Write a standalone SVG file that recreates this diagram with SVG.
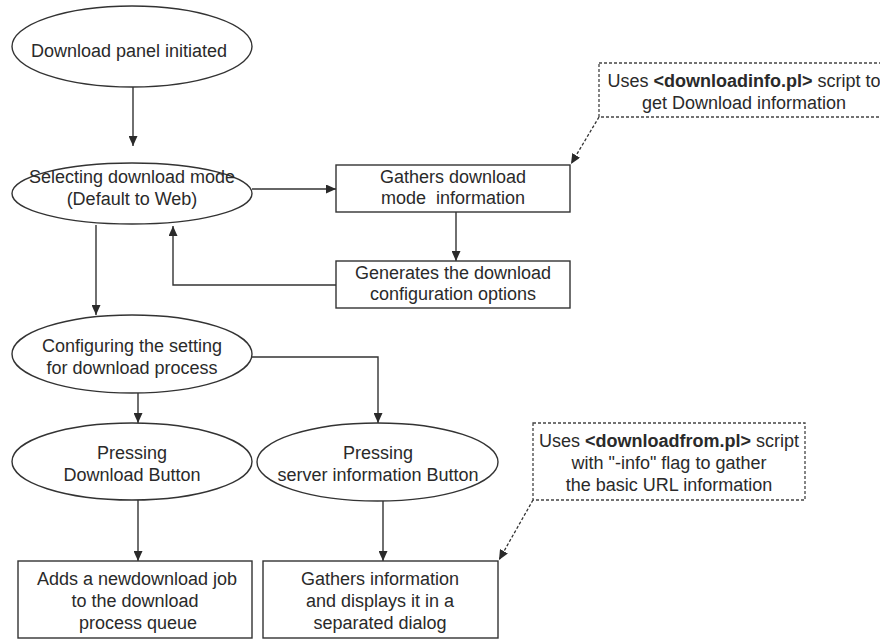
<svg xmlns="http://www.w3.org/2000/svg" width="880" height="639" viewBox="0 0 880 639">
<defs>
<style>
.sh{fill:#fff;stroke:#333;stroke-width:1.4}
.note{fill:#fff;stroke:#444;stroke-width:1.3;stroke-dasharray:3 2}
.t{font-family:"Liberation Sans",Arial,sans-serif;font-size:18px;fill:#2a2a2a;text-anchor:middle}
.b{font-weight:bold}
.c{fill:none;stroke:#333;stroke-width:1.4}
.d{fill:none;stroke:#333;stroke-width:1.3;stroke-dasharray:3 2}
</style>
<marker id="ah" markerUnits="userSpaceOnUse" markerWidth="10" markerHeight="9" refX="10" refY="4.5" orient="auto">
<path d="M0,0 L10,4.5 L0,9 z" fill="#2a2a2a"/>
</marker>
</defs>
<rect width="880" height="639" fill="#fff"/>
<g id="connectors">
<line class="c" x1="133" y1="87" x2="133" y2="146" marker-end="url(#ah)"/>
<line class="c" x1="252" y1="189" x2="336" y2="189" marker-end="url(#ah)"/>
<line class="c" x1="456" y1="212" x2="456" y2="261" marker-end="url(#ah)"/>
<polyline class="c" points="336,285 173,285 173,226" marker-end="url(#ah)"/>
<line class="c" x1="96" y1="225" x2="96" y2="315" marker-end="url(#ah)"/>
<line class="c" x1="138" y1="393" x2="138" y2="423" marker-end="url(#ah)"/>
<polyline class="c" points="252,357 378,357 378,423" marker-end="url(#ah)"/>
<line class="c" x1="138" y1="500" x2="138" y2="561" marker-end="url(#ah)"/>
<line class="c" x1="383" y1="501" x2="383" y2="561" marker-end="url(#ah)"/>
<line class="d" x1="599" y1="117" x2="571" y2="164" marker-end="url(#ah)"/>
<line class="d" x1="533" y1="500" x2="499" y2="560" marker-end="url(#ah)"/>
</g>
<g id="n1">
<ellipse class="sh" cx="132" cy="46.5" rx="120" ry="40.5"/>
<text class="t" x="129" y="57">Download panel initiated</text>
</g>
<g id="n2">
<ellipse class="sh" cx="132" cy="193.5" rx="120" ry="30.5"/>
<text class="t" x="132" y="183">Selecting download mode</text>
<text class="t" x="132" y="205">(Default to Web)</text>
</g>
<g id="n3">
<rect class="sh" x="336" y="165" width="234" height="47"/>
<text class="t" x="453" y="183">Gathers download</text>
<text class="t" x="453" y="204" xml:space="preserve">mode  information</text>
</g>
<g id="n4">
<rect class="sh" x="336" y="261" width="234" height="47"/>
<text class="t" x="453" y="279">Generates the download</text>
<text class="t" x="453" y="300">configuration options</text>
</g>
<g id="note1">
<rect class="note" x="599" y="63" width="288" height="54"/>
<text class="t" x="744" y="87">Uses <tspan class="b">&lt;downloadinfo.pl&gt;</tspan> script to</text>
<text class="t" x="744" y="109">get Download information</text>
</g>
<g id="n5">
<ellipse class="sh" cx="132" cy="354" rx="120" ry="39"/>
<text class="t" x="132" y="352">Configuring the setting</text>
<text class="t" x="132" y="374">for download process</text>
</g>
<g id="n6">
<ellipse class="sh" cx="132" cy="461.5" rx="120" ry="38.5"/>
<text class="t" x="132" y="459">Pressing</text>
<text class="t" x="132" y="481">Download Button</text>
</g>
<g id="n7">
<ellipse class="sh" cx="377.5" cy="462" rx="120.5" ry="39"/>
<text class="t" x="378" y="459">Pressing</text>
<text class="t" x="378" y="481">server information Button</text>
</g>
<g id="note2">
<rect class="note" x="533" y="423" width="272" height="77"/>
<text class="t" x="669" y="447">Uses <tspan class="b">&lt;downloadfrom.pl&gt;</tspan> script</text>
<text class="t" x="669" y="469">with "-info" flag to gather</text>
<text class="t" x="669" y="491">the basic URL information</text>
</g>
<g id="n8">
<rect class="sh" x="18" y="561" width="234" height="77"/>
<text class="t" x="137" y="585">Adds a newdownload job</text>
<text class="t" x="135" y="607">to the download</text>
<text class="t" x="138" y="629">process queue</text>
</g>
<g id="n9">
<rect class="sh" x="263" y="561" width="235" height="77"/>
<text class="t" x="380" y="585">Gathers information</text>
<text class="t" x="380" y="607">and displays it in a</text>
<text class="t" x="380" y="629">separated dialog</text>
</g>
</svg>
